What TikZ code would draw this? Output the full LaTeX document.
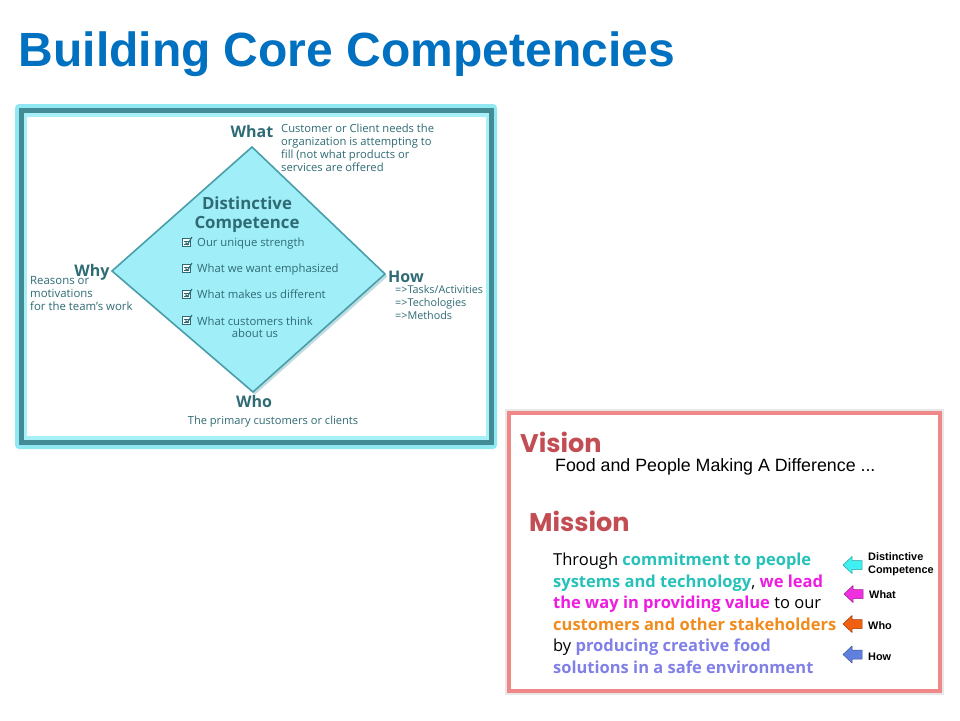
\documentclass[tikz,border=0pt]{standalone}
\usepackage{fontspec}
\setmainfont{Open Sans}
\newfontfamily\arialf{Liberation Sans}
\newfontfamily\popf{Poppins}
\definecolor{titleblue}{HTML}{0070C0}
\definecolor{tealtxt}{HTML}{2F6B74}
\definecolor{framecyan}{HTML}{90E8F2}
\definecolor{framedark}{HTML}{438C96}
\definecolor{framelight}{HTML}{A8F0F8}
\definecolor{diafill}{HTML}{A0EEF8}
\definecolor{diaedge}{HTML}{4A9EAA}
\definecolor{salmon}{HTML}{F08888}
\definecolor{vmred}{HTML}{C24E54}
\definecolor{mteal}{HTML}{26C2BA}
\definecolor{mmag}{HTML}{EE1BE0}
\definecolor{morange}{HTML}{F08C1E}
\definecolor{mblue}{HTML}{8080E8}
\definecolor{acyan}{HTML}{40F0F0}
\definecolor{amag}{HTML}{F030E0}
\definecolor{aorange}{HTML}{F06010}
\definecolor{ablue}{HTML}{6080E0}
\tikzset{
  lbl/.style={inner sep=0pt, text=tealtxt, font=\fontsize{11.1}{13}\selectfont, anchor=base west},
  head/.style={inner sep=0pt, text=tealtxt, font=\bfseries\fontsize{16}{18}\selectfont, anchor=base},
  dchead/.style={inner sep=0pt, text=tealtxt, font=\bfseries\fontsize{16.8}{18}\selectfont, anchor=base},
  item/.style={inner sep=0pt, text=tealtxt, font=\fontsize{11.3}{13}\selectfont, anchor=base west},
  mline/.style={inner sep=0pt, anchor=base west, font=\bfseries\fontsize{16.5}{21}\selectfont},
  alab/.style={inner sep=0pt, anchor=base west, font=\arialf\bfseries\fontsize{10.9}{13}\selectfont},
  vm/.style={inner sep=0pt, anchor=base west, text=vmred, font=\popf\bfseries\fontsize{25.5}{30}\selectfont},
}
\newcommand\chkicon[2]{%
  \draw[tealtxt, line width=0.8pt, fill=white] (#1-4.5,#2-3.5) rectangle (#1+3.5,#2+4.5);
  \draw[tealtxt, line width=0.6pt] (#1-3,#2-1) -- (#1+2,#2-1) (#1-3,#2+1.8) -- (#1+2,#2+1.8);
  \draw[tealtxt, line width=1.1pt] (#1-1.5,#2+0.5) -- (#1+0.5,#2+2.5) -- (#1+5,#2-5);
}
\newcommand\blkarrow[3]{% x of tip, y centre, colour
  \draw[fill=#3, draw=#3!65!black, line width=0.5pt, line join=round]
    (#1,#2) -- (#1+9,#2-8.5) -- (#1+9,#2-4.5) -- (#1+19,#2-4.5) -- (#1+19,#2+4.5)
    -- (#1+9,#2+4.5) -- (#1+9,#2+8.5) -- cycle;
}
\begin{document}
\begin{tikzpicture}[x=1pt,y=-1pt]
\useasboundingbox (0,0) rectangle (960,720);
\fill[white] (0,0) rectangle (960,720);
% title
\node[inner sep=0pt, anchor=base west, text=titleblue, font=\arialf\bfseries\fontsize{48}{50}\selectfont] (title) at (18.5,66.5) {Building Core Competencies};
% left frame
\fill[framecyan, rounded corners=4pt] (15,104) rectangle (497,449);
\fill[framedark] (19,108) rectangle (494,445);
\fill[framelight] (24,113) rectangle (489,440);
\fill[white] (27,117) rectangle (486,436);
% diamond
\fill[diaedge!35] (254,149.5) -- (387.5,276.5) -- (255,394.5) -- (114,273) -- cycle;
\draw[diaedge, line width=1.6pt, fill=diafill] (252,147) coordinate (dT) -- (385,274) coordinate (dR) -- (253,392) coordinate (dB) -- (112,271) coordinate (dL) -- cycle;
% labels
\node[head] (what) at (252,137) {What};
\node[lbl, font=\fontsize{11.2}{13}\selectfont] (wt1) at (281,132) {Customer or Client needs the};
\node[lbl, font=\fontsize{11.2}{13}\selectfont] (wt2) at (281,145) {organization is attempting to};
\node[lbl, font=\fontsize{11.2}{13}\selectfont] (wt3) at (281,158) {fill (not what products or};
\node[lbl, font=\fontsize{11.2}{13}\selectfont] (wt4) at (281,171) {services are offered};
\node[lbl, font=\fontsize{11.4}{13}\selectfont] (wy1) at (30,284) {Reasons or};
\node[lbl, font=\fontsize{11.4}{13}\selectfont] (wy2) at (30,297) {motivations};
\node[lbl, font=\fontsize{11.4}{13}\selectfont] (wy3) at (30,310) {for the team’s work};
\node[head] (why) at (92,276) {Why};
\node[head] (how) at (406,282) {How};
\node[lbl, font=\fontsize{10.8}{13}\selectfont] (hw1) at (395,293) {=>Tasks/Activities};
\node[lbl, font=\fontsize{10.8}{13}\selectfont] (hw2) at (395,306) {=>Techologies};
\node[lbl, font=\fontsize{10.8}{13}\selectfont] (hw3) at (395,319) {=>Methods};
\node[head] (who) at (254,407) {Who};
\node[lbl, anchor=base] (whotxt) at (273,424) {The primary customers or clients};
\node[dchead] (dc1) at (247,209) {Distinctive};
\node[dchead] (dc2) at (247,228) {Competence};
\chkicon{187}{242}
\chkicon{187}{268}
\chkicon{187}{294}
\chkicon{187}{320}
\node[item] (b1) at (197,246.5) {Our unique strength};
\node[item] (b2) at (197,272.5) {What we want emphasized};
\node[item] (b3) at (197,298.5) {What makes us different};
\node[item] (b4) at (197,325) {What customers think};
\node[item, anchor=base] (b4b) at (255,337.5) {about us};
% right box
\fill[black!9] (505,409) rectangle (944,695);
\draw[salmon, line width=4pt, fill=white] (509,413) rectangle (940,691);
\node[vm] (vision) at (520,452) {Vision};
\node[inner sep=0pt, anchor=base west, font=\arialf\fontsize{17.8}{20}\selectfont] (vtxt) at (555,471.5) {Food and People Making A Difference ...};
\node[vm] (mission) at (529,531) {Mission};
\node[mline] (m1) at (553,565) {{\mdseries Through} \textcolor{mteal}{commitment to people}};
\node[mline] (m2) at (553,587) {\textcolor{mteal}{systems and technology}{\mdseries,} \textcolor{mmag}{we lead}};
\node[mline] (m3) at (553,608.5) {\textcolor{mmag}{the way in providing value} {\mdseries to our}};
\node[mline] (m4) at (553,630) {\textcolor{morange}{customers and other stakeholders}};
\node[mline] (m5) at (553,651.5) {{\mdseries by} \textcolor{mblue}{producing creative food}};
\node[mline] (m6) at (553,673) {\textcolor{mblue}{solutions in a safe environment}};
% arrows
\blkarrow{843}{565}{acyan}
\blkarrow{844}{594}{amag}
\blkarrow{843}{624}{aorange}
\blkarrow{843}{654.5}{ablue}
\node[alab] (l1) at (868,560) {Distinctive};
\node[alab] (l1b) at (868,573) {Competence};
\node[alab] (l2) at (869,598) {What};
\node[alab] (l3) at (868,629) {Who};
\node[alab] (l4) at (868,660) {How};
\end{tikzpicture}
\end{document}
